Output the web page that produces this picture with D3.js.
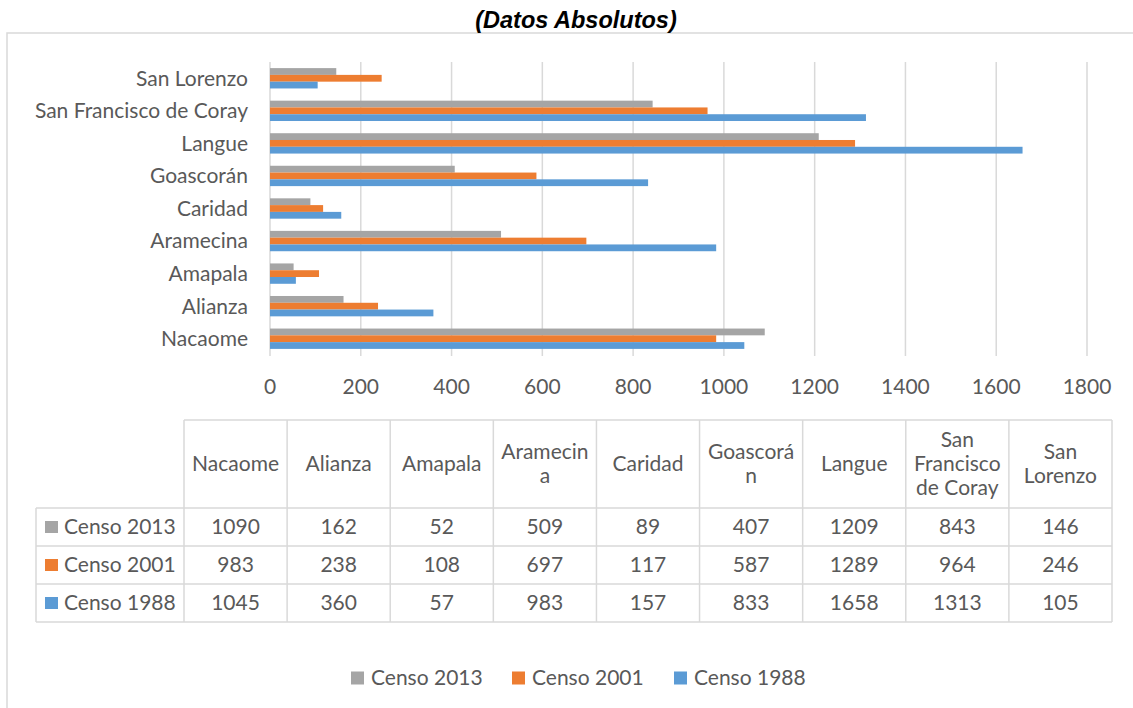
<!DOCTYPE html>
<html>
<head>
<meta charset="utf-8">
<script src="https://cdn.jsdelivr.net/npm/d3@7"></script>
<style>
  body { margin: 0; background: #fff; }
  svg { display: block; }
  text { font-family: Lato, "Open Sans", sans-serif; fill: #595959; }
</style>
</head>
<body>
<div id="chart"></div>
<script>
var categories = ["Nacaome", "Alianza", "Amapala", "Aramecina", "Caridad", "Goascorán", "Langue", "San Francisco de Coray", "San Lorenzo"];
var series = ["Censo 2013", "Censo 2001", "Censo 1988"];
var censo2013 = [1090, 162, 52, 509, 89, 407, 1209, 843, 146];
var censo2001 = [983, 238, 108, 697, 117, 587, 1289, 964, 246];
var censo1988 = [1045, 360, 57, 983, 157, 833, 1658, 1313, 105];
var xTicks = [0, 200, 400, 600, 800, 1000, 1200, 1400, 1600, 1800];
var seriesColors = ["#A5A5A5", "#ED7D31", "#5B9BD5"];
var title = "(Datos Absolutos)";

var values = [censo2013, censo2001, censo1988];
var W = 1133, H = 708;
var fs = 21;
var grid = "#D9D9D9";

var svg = d3.select("#chart").append("svg")
    .attr("width", W)
    .attr("height", H);

// chart frame (runs off the right/bottom edge in the reference)
svg.append("rect")
    .attr("x", 7).attr("y", 33)
    .attr("width", 1140).attr("height", 700)
    .attr("fill", "none")
    .attr("stroke", grid)
    .attr("stroke-width", 1.5);

svg.append("text")
    .attr("x", 576).attr("y", 28)
    .attr("text-anchor", "middle")
    .style("font-family", "'Liberation Sans', Arial, sans-serif")
    .style("font-weight", "bold")
    .style("font-style", "italic")
    .style("font-size", "23.5px")
    .style("fill", "#000")
    .text(title);

// scales
var x = d3.scaleLinear().domain([0, 1800]).range([270, 1087]);
var y = d3.scaleBand()
    .domain(categories.slice().reverse())
    .range([62, 355]);
var ys = d3.scaleBand()
    .domain(series)
    .range([0, y.bandwidth()])
    .paddingInner(0)
    .paddingOuter(0.9);

// gridlines
svg.append("g").selectAll("line")
    .data(xTicks)
    .enter().append("line")
    .attr("x1", function(d) { return x(d); })
    .attr("x2", function(d) { return x(d); })
    .attr("y1", 62).attr("y2", 356)
    .attr("stroke", grid)
    .attr("stroke-width", 1.5);

// x tick labels
svg.append("g").selectAll("text")
    .data(xTicks)
    .enter().append("text")
    .attr("x", function(d) { return x(d); })
    .attr("y", 387)
    .attr("dy", "0.35em")
    .attr("text-anchor", "middle")
    .style("font-size", fs + "px")
    .text(function(d) { return d; });

// category labels
svg.append("g").selectAll("text")
    .data(categories)
    .enter().append("text")
    .attr("x", 248)
    .attr("y", function(d) { return y(d) + y.bandwidth() / 2; })
    .attr("dy", "0.35em")
    .attr("text-anchor", "end")
    .style("font-size", fs + "px")
    .text(function(d) { return d; });

// bars
series.forEach(function(s, i) {
    svg.append("g").selectAll("rect")
        .data(categories)
        .enter().append("rect")
        .attr("x", x(0))
        .attr("y", function(d) { return y(d) + ys(s); })
        .attr("width", function(d, j) { return x(values[i][j]) - x(0); })
        .attr("height", ys.bandwidth())
        .attr("fill", seriesColors[i]);
});

// data table
var tx = d3.scaleBand().domain(categories).range([184, 1112]);
var rowTop = [420, 508, 546, 584, 622];
var labelLeft = 36;

var tbl = svg.append("g")
    .attr("stroke", grid)
    .attr("stroke-width", 1.5);
// horizontal lines
tbl.append("line").attr("x1", 184).attr("x2", 1112).attr("y1", rowTop[0]).attr("y2", rowTop[0]);
rowTop.slice(1).forEach(function(r) {
    tbl.append("line").attr("x1", labelLeft).attr("x2", 1112).attr("y1", r).attr("y2", r);
});
// vertical lines
tbl.append("line").attr("x1", labelLeft).attr("x2", labelLeft).attr("y1", rowTop[1]).attr("y2", rowTop[4]);
categories.forEach(function(c) {
    tbl.append("line").attr("x1", tx(c)).attr("x2", tx(c)).attr("y1", rowTop[0]).attr("y2", rowTop[4]);
});
tbl.append("line").attr("x1", 1112).attr("x2", 1112).attr("y1", rowTop[0]).attr("y2", rowTop[4]);

// header text, wrapped to column width like Excel does
function wrapLines(str, maxW) {
    var probe = svg.append("text").style("font-size", fs + "px");
    function w(t) { probe.text(t); return probe.node().getComputedTextLength(); }
    var words = str.split(" "), lines = [], cur = "";
    words.forEach(function(word) {
        var test = cur ? cur + " " + word : word;
        if (w(test) <= maxW) { cur = test; return; }
        if (cur) lines.push(cur);
        cur = "";
        // break long words by characters
        var piece = "";
        word.split("").forEach(function(ch) {
            if (w(piece + ch) > maxW && piece) { lines.push(piece); piece = ch; }
            else piece += ch;
        });
        cur = piece;
    });
    if (cur) lines.push(cur);
    probe.remove();
    return lines;
}

var lineH = 24;
var headMid = (rowTop[0] + rowTop[1]) / 2;
categories.forEach(function(c) {
    var lines = wrapLines(c, tx.bandwidth() - 8);
    var t = svg.append("text")
        .attr("text-anchor", "middle")
        .style("font-size", fs + "px");
    lines.forEach(function(l, k) {
        t.append("tspan")
            .attr("x", tx(c) + tx.bandwidth() / 2)
            .attr("y", headMid + (k - (lines.length - 1) / 2) * lineH)
            .attr("dy", "0.35em")
            .text(l);
    });
});

// rows
series.forEach(function(s, i) {
    var mid = (rowTop[i + 1] + rowTop[i + 2]) / 2;
    svg.append("rect")
        .attr("x", 45).attr("y", mid - 6)
        .attr("width", 13).attr("height", 12)
        .attr("fill", seriesColors[i]);
    svg.append("text")
        .attr("x", 64).attr("y", mid)
        .attr("dy", "0.35em")
        .style("font-size", fs + "px")
        .text(s);
    svg.append("g").selectAll("text")
        .data(categories)
        .enter().append("text")
        .attr("x", function(d) { return tx(d) + tx.bandwidth() / 2; })
        .attr("y", mid)
        .attr("dy", "0.35em")
        .attr("text-anchor", "middle")
        .style("font-size", fs + "px")
        .text(function(d, j) { return values[i][j]; });
});

// legend
var legendX = [351, 512, 674];
var legend = svg.append("g").selectAll("g")
    .data(series)
    .enter().append("g")
    .attr("transform", function(d, i) { return "translate(" + legendX[i] + ",678)"; });
legend.append("rect")
    .attr("x", 0).attr("y", -6.5)
    .attr("width", 13).attr("height", 13)
    .attr("fill", function(d, i) { return seriesColors[i]; });
legend.append("text")
    .attr("x", 20).attr("y", 0)
    .attr("dy", "0.35em")
    .style("font-size", fs + "px")
    .text(function(d) { return d; });
</script>
</body>
</html>
